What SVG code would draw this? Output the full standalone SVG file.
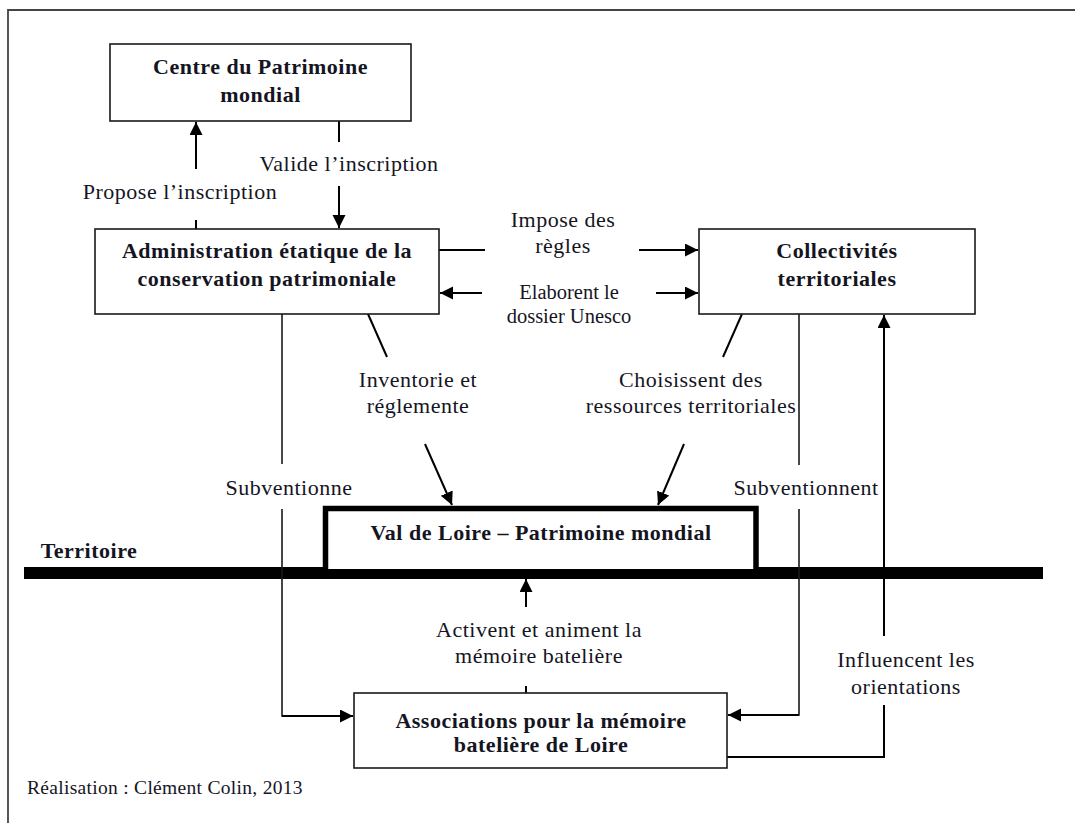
<svg xmlns="http://www.w3.org/2000/svg" width="1075" height="823" viewBox="0 0 1075 823">
  <style>
    .box { fill: #ffffff; stroke: #1a1a1a; stroke-width: 1.6; }
    .t { font-family: "Liberation Serif", "Times New Roman", serif; fill: #15151f; text-anchor: middle; }
    .b { font-weight: bold; font-size: 22px; letter-spacing: 0.5px; }
    .r { font-size: 22px; letter-spacing: 0.5px; }
    .s { font-size: 20.5px; }
    .c { fill: none; stroke: #000; stroke-width: 2; }
    .thin { fill: none; stroke: #1a1a1a; stroke-width: 1.6; }
  </style>
  <defs>
    <marker id="ah" markerUnits="userSpaceOnUse" markerWidth="14" markerHeight="14" refX="13" refY="6.5" orient="auto">
      <path d="M0,0 L13,6.5 L0,13 z" fill="#000"/>
    </marker>
  </defs>
  <rect width="1075" height="823" fill="#ffffff"/>
  <g id="frame">
    <path d="M8,823 L8,10 L1075,10" fill="none" stroke="#444" stroke-width="1.8"/>
  </g>

  <g id="territoire">
    <rect x="24" y="567" width="1019" height="12" fill="#000"/>
    <text class="t b" x="89" y="558">Territoire</text>
  </g>

  <g id="connectors">
    <!-- Propose l'inscription -->
    <line class="c" x1="196" y1="220" x2="196" y2="229"/>
    <line class="c" x1="196" y1="169" x2="196" y2="122" marker-end="url(#ah)"/>
    <!-- Valide l'inscription -->
    <line class="c" x1="339" y1="121" x2="339" y2="142"/>
    <line class="c" x1="339" y1="186" x2="339" y2="228" marker-end="url(#ah)"/>
    <!-- Impose des regles -->
    <line class="c" x1="439" y1="250" x2="485" y2="250"/>
    <line class="c" x1="639" y1="250" x2="698" y2="250" marker-end="url(#ah)"/>
    <!-- Elaborent le dossier -->
    <line class="c" x1="482" y1="293" x2="440" y2="293" marker-end="url(#ah)"/>
    <line class="c" x1="656" y1="293" x2="698" y2="293" marker-end="url(#ah)"/>
    <!-- Inventorie -->
    <line class="c" x1="368" y1="314" x2="387" y2="357"/>
    <line class="c" x1="425" y1="444" x2="452" y2="505" marker-end="url(#ah)"/>
    <!-- Choisissent -->
    <line class="c" x1="742" y1="314" x2="723" y2="357"/>
    <line class="c" x1="684" y1="444" x2="658" y2="505" marker-end="url(#ah)"/>
    <!-- Subventionne -->
    <line class="thin" x1="282" y1="314" x2="282" y2="464"/>
    <polyline class="thin" points="282,509 282,716 300,716"/>
    <line class="c" x1="282" y1="716" x2="353" y2="716" marker-end="url(#ah)"/>
    <!-- Subventionnent -->
    <line class="thin" x1="799" y1="314" x2="799" y2="465"/>
    <polyline class="thin" points="799,509 799,715 780,715"/>
    <line class="c" x1="799" y1="715" x2="728" y2="715" marker-end="url(#ah)"/>
    <!-- Influencent -->
    <polyline class="c" points="727,757 884,757 884,705"/>
    <line class="c" x1="884" y1="636" x2="884" y2="315" marker-end="url(#ah)"/>
    <!-- Activent -->
    <line class="c" x1="526" y1="686" x2="526" y2="693"/>
    <line class="c" x1="526" y1="607" x2="526" y2="579" marker-end="url(#ah)"/>
  </g>

  <g id="labels">
    <text class="t r" x="180" y="199">Propose l’inscription</text>
    <text class="t r" x="349" y="171">Valide l’inscription</text>
    <text class="t r" x="563" y="227">Impose des</text>
    <text class="t r" x="563" y="253">règles</text>
    <text class="t s" x="569" y="299">Elaborent le</text>
    <text class="t s" x="569" y="323">dossier Unesco</text>
    <text class="t r" x="418" y="387">Inventorie et</text>
    <text class="t r" x="418" y="413">réglemente</text>
    <text class="t r" x="691" y="387">Choisissent des</text>
    <text class="t r" x="691" y="413">ressources territoriales</text>
    <text class="t r" x="289" y="495">Subventionne</text>
    <text class="t r" x="806" y="495">Subventionnent</text>
    <text class="t r" x="539" y="637">Activent et animent la</text>
    <text class="t r" x="539" y="663">mémoire batelière</text>
    <text class="t r" x="906" y="667">Influencent les</text>
    <text class="t r" x="906" y="694">orientations</text>
  </g>

  <g id="centre">
    <rect class="box" x="110" y="44" width="301" height="77"/>
    <text class="t b" x="260.5" y="74">Centre du Patrimoine</text>
    <text class="t b" x="260.5" y="102">mondial</text>
  </g>

  <g id="administration">
    <rect class="box" x="95" y="229" width="344" height="85"/>
    <text class="t b" x="267" y="258">Administration étatique de la</text>
    <text class="t b" x="267" y="286">conservation patrimoniale</text>
  </g>

  <g id="collectivites">
    <rect class="box" x="699" y="229" width="276" height="85"/>
    <text class="t b" x="837" y="258">Collectivités</text>
    <text class="t b" x="837" y="286">territoriales</text>
  </g>

  <g id="val-de-loire">
    <path d="M325.5,569 L325.5,508.5 L756,508.5 L756,569" fill="#ffffff" stroke="#000" stroke-width="5.5"/>
    <text class="t b" x="541" y="540">Val de Loire – Patrimoine mondial</text>
  </g>

  <g id="associations">
    <rect class="box" x="354" y="693" width="373" height="75"/>
    <text class="t b" x="541" y="728">Associations pour la mémoire</text>
    <text class="t b" x="541" y="752">batelière de Loire</text>
  </g>

  <g id="footer">
    <text class="t" x="27" y="794" style="text-anchor:start;font-size:19.5px;letter-spacing:0.3px">Réalisation : Clément Colin, 2013</text>
  </g>
</svg>
